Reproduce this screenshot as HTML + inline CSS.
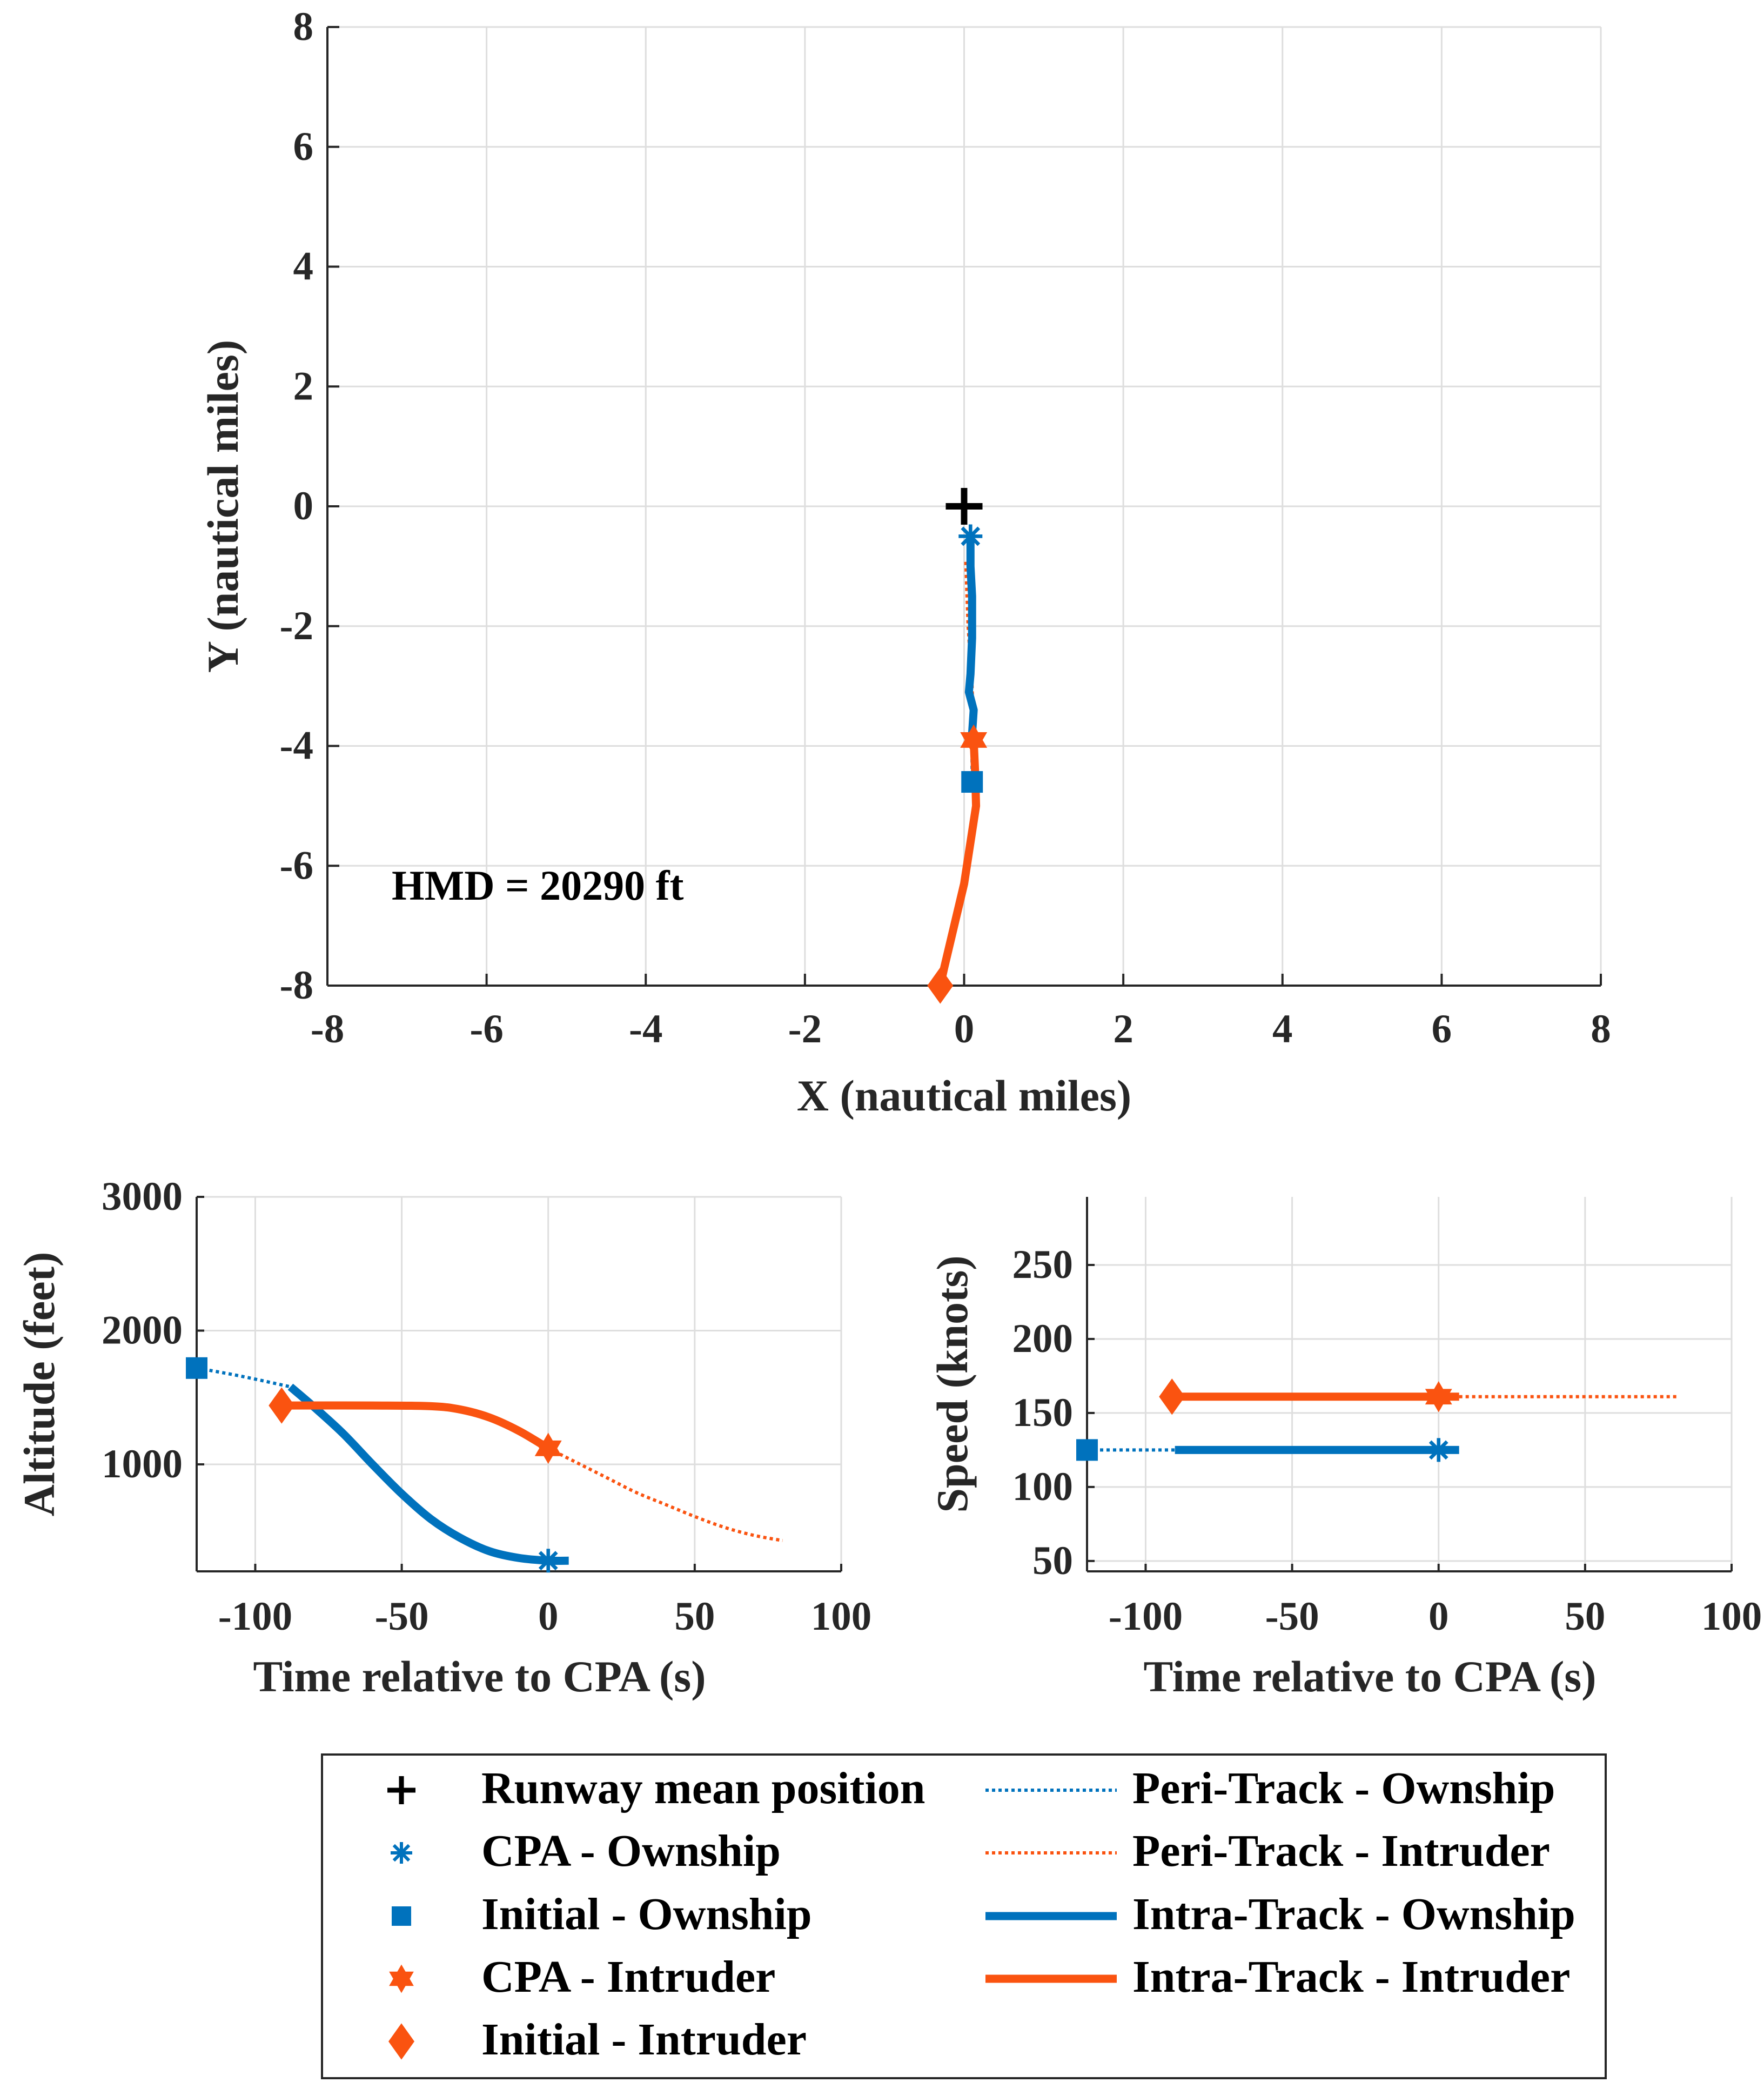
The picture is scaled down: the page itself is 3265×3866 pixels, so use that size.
<!DOCTYPE html>
<html><head><meta charset="utf-8">
<style>
html,body{margin:0;padding:0;background:#fff;}
svg{display:block;font-family:"Liberation Serif",serif;font-weight:bold;}
</style></head>
<body>
<svg id="fig" width="3265" height="3866" viewBox="0 0 3265 3866" xmlns="http://www.w3.org/2000/svg"></svg>
<script>
// ---- data ----
const xyTicks = [-8,-6,-4,-2,0,2,4,6,8];
const runwayXY = [0,0];
const cpaOwnXY = [0.08,-0.5];
const cpaIntXY = [0.12,-3.9];
const initOwnXY = [0.1,-4.6];
const initIntXY = [-0.3,-8];
const ownIntraX = [0.08,0.08,0.1,0.1,0.08,0.06,0.12,0.1];
const ownIntraY = [-0.5,-1.0,-1.5,-2.2,-2.8,-3.1,-3.4,-3.8];
const ownPeriX = [0.1,0.1];
const ownPeriY = [-4.6,-3.8];
const intIntraX = [-0.3,-0.25,0.0,0.15,0.14,0.12];
const intIntraY = [-8,-7.7,-6.3,-5.0,-4.5,-3.9];
const intPeriX = [0.12,0.1,0.05,0.02];
const intPeriY = [-3.9,-3.0,-2.0,-0.9];

const timeTicks = [-100,-50,0,50,100];
const altTicks = [1000,2000,3000];
const spdTicks = [50,100,150,200,250];
const ownAltIntraT = [-88,-80,-70,-60,-50,-40,-30,-20,-10,0,7];
const ownAltIntraV = [1580,1430,1230,1000,780,590,450,350,300,280,280];
const ownAltPeriT = [-120,-105,-88];
const ownAltPeriV = [1720,1660,1580];
const intAltIntraT = [-91,-60,-40,-30,-20,-10,0];
const intAltIntraV = [1440,1440,1435,1410,1350,1250,1120];
const intAltPeriT = [0,10,20,30,40,50,60,70,80];
const intAltPeriV = [1120,1010,900,790,700,610,530,470,430];
const ownSpdT = [-90,7];
const ownSpdV = [125,125];
const ownSpdPeriT = [-120,-90];
const ownSpdPeriV = [125,125];
const intSpdT = [-91,7];
const intSpdV = [161,161];
const intSpdPeriT = [7,82];
const intSpdPeriV = [161,161];

const BLUE = "#0072BD", ORANGE = "#FA5310";
const NS = "http://www.w3.org/2000/svg";
const svg = document.getElementById("fig");
function mk(tag, attrs, parent){ const e=document.createElementNS(NS,tag); for(const k in attrs) e.setAttribute(k,attrs[k]); (parent||svg).appendChild(e); return e; }
function txt(s, attrs, parent){ const e=mk("text",attrs,parent); e.textContent=s; return e; }

function marker(type, cx, cy, size, color, parent){
  const g = mk("g",{},parent);
  if(type==="plus"){
    mk("line",{x1:cx-size,y1:cy,x2:cx+size,y2:cy,stroke:color,"stroke-width":size*0.35},g);
    mk("line",{x1:cx,y1:cy-size,x2:cx,y2:cy+size,stroke:color,"stroke-width":size*0.35},g);
  } else if(type==="asterisk"){
    for(let a=0;a<4;a++){ const t=a*Math.PI/4; mk("line",{x1:cx-size*Math.cos(t),y1:cy-size*Math.sin(t),x2:cx+size*Math.cos(t),y2:cy+size*Math.sin(t),stroke:color,"stroke-width":size*0.3},g); }
  } else if(type==="square"){
    mk("rect",{x:cx-size,y:cy-size,width:2*size,height:2*size,fill:color},g);
  } else if(type==="diamond"){
    mk("polygon",{points:`${cx},${cy-size*1.4} ${cx+size},${cy} ${cx},${cy+size*1.4} ${cx-size},${cy}`,fill:color},g);
  } else if(type==="hexagram"){
    const r=size*1.2; let p1="",p2="";
    for(let i=0;i<3;i++){ const t1=-Math.PI/2+i*2*Math.PI/3, t2=Math.PI/2+i*2*Math.PI/3;
      p1+=`${cx+r*Math.cos(t1)},${cy+r*Math.sin(t1)} `; p2+=`${cx+r*Math.cos(t2)},${cy+r*Math.sin(t2)} `; }
    mk("polygon",{points:p1,fill:color},g); mk("polygon",{points:p2,fill:color},g);
  }
  return g;
}
function poly(xs, ys, sx, sy, attrs, parent){
  const pts = xs.map((x,i)=>sx(x)+","+sy(ys[i])).join(" ");
  return mk("polyline", Object.assign({points:pts, fill:"none","stroke-linejoin":"round","stroke-linecap":"butt"},attrs), parent);
}
function smooth(xs, ys, sx, sy, attrs, parent){
  const P = xs.map((x,i)=>[sx(x),sy(ys[i])]);
  let d = `M${P[0][0]},${P[0][1]}`;
  for(let i=0;i<P.length-1;i++){
    const p0=P[Math.max(0,i-1)], p1=P[i], p2=P[i+1], p3=P[Math.min(P.length-1,i+2)];
    const c1=[p1[0]+(p2[0]-p0[0])/6, p1[1]+(p2[1]-p0[1])/6];
    const c2=[p2[0]-(p3[0]-p1[0])/6, p2[1]-(p3[1]-p1[1])/6];
    d+=` C${c1[0]},${c1[1]} ${c2[0]},${c2[1]} ${p2[0]},${p2[1]}`;
  }
  return mk("path", Object.assign({d:d, fill:"none","stroke-linejoin":"round"},attrs), parent);
}

const TICKF=75, TITLEF=82;
// ---- top XY plot ----
const X0=606,X1=2963,Y0=50,Y1=1824;
const sx = v => X0 + (v+8)/16*(X1-X0);
const sy = v => Y1 - (v+8)/16*(Y1-Y0);
const topG = mk("g",{});


const grid = mk("g",{stroke:"#dedede","stroke-width":3},topG);
for(const t of xyTicks){
  mk("line",{x1:sx(t),y1:Y0,x2:sx(t),y2:Y1},grid);
  mk("line",{x1:X0,y1:sy(t),x2:X1,y2:sy(t)},grid);
}
mk("line",{x1:X0,y1:Y0,x2:X0,y2:Y1,stroke:"#262626","stroke-width":4},topG);
mk("line",{x1:X0,y1:Y1,x2:X1,y2:Y1,stroke:"#262626","stroke-width":4},topG);
for(const t of xyTicks){
  mk("line",{x1:sx(t),y1:Y1,x2:sx(t),y2:Y1-22,stroke:"#262626","stroke-width":4},topG);
  mk("line",{x1:X0,y1:sy(t),x2:X0+22,y2:sy(t),stroke:"#262626","stroke-width":4},topG);
  const xl=txt(String(t),{x:sx(t),y:Y1+105,"text-anchor":"middle","font-size":TICKF,fill:"#262626"},topG);
  
  
  const yl=txt(String(t),{x:X0-26,y:sy(t)+24,"text-anchor":"end","font-size":TICKF,fill:"#262626"},topG);
  
  
}
const xt=txt("X (nautical miles)",{x:(X0+X1)/2,y:2055,"text-anchor":"middle","font-size":TITLEF,fill:"#262626"},topG);


const yt=txt("Y (nautical miles)",{x:0,y:0,"text-anchor":"middle","font-size":TITLEF,fill:"#262626",transform:`translate(440,${(Y0+Y1)/2}) rotate(-90)`},topG);


const hmd=txt("HMD = 20290 ft",{x:725,y:1665,"font-size":78,fill:"#000"},topG);


let e;
e=poly(intPeriX,intPeriY,sx,sy,{stroke:ORANGE,"stroke-width":6,"stroke-dasharray":"6 6"},topG);


e=poly(ownPeriX,ownPeriY,sx,sy,{stroke:BLUE,"stroke-width":6,"stroke-dasharray":"6 6"},topG);


e=poly(ownIntraX,ownIntraY,sx,sy,{stroke:BLUE,"stroke-width":15},topG);


e=poly(intIntraX,intIntraY,sx,sy,{stroke:ORANGE,"stroke-width":15},topG);


e=marker("plus",sx(runwayXY[0]),sy(runwayXY[1]),34,"#000",topG);


e=marker("asterisk",sx(cpaOwnXY[0]),sy(cpaOwnXY[1]),22,BLUE,topG);


e=marker("square",sx(initOwnXY[0]),sy(initOwnXY[1]),20,BLUE,topG);


e=marker("hexagram",sx(cpaIntXY[0]),sy(cpaIntXY[1]),24,ORANGE,topG);


e=marker("diamond",sx(initIntXY[0]),sy(initIntXY[1]),24,ORANGE,topG);



// ---- bottom time plots ----
function timePlot(name, L, R, T, B, ymin, ymax, ticks, ylabel, ylabelX, drawData){
  const g=mk("g",{});
  
  
  const tx = v => L + (v+120)/220*(R-L);
  const ty = v => B - (v-ymin)/(ymax-ymin)*(B-T);
  const gr=mk("g",{stroke:"#dedede","stroke-width":3},g);
  for(const t of timeTicks) mk("line",{x1:tx(t),y1:T,x2:tx(t),y2:B},gr);
  for(const t of ticks) mk("line",{x1:L,y1:ty(t),x2:R,y2:ty(t)},gr);
  mk("line",{x1:L,y1:T,x2:L,y2:B,stroke:"#262626","stroke-width":4},g);
  mk("line",{x1:L,y1:B,x2:R,y2:B,stroke:"#262626","stroke-width":4},g);
  for(const t of timeTicks){
    mk("line",{x1:tx(t),y1:B,x2:tx(t),y2:B-14,stroke:"#262626","stroke-width":4},g);
    const l=txt(String(t),{x:tx(t),y:B+108,"text-anchor":"middle","font-size":TICKF,fill:"#262626"},g);
    
    
  }
  for(const t of ticks){
    mk("line",{x1:L,y1:ty(t),x2:L+14,y2:ty(t),stroke:"#262626","stroke-width":4},g);
    const l=txt(String(t),{x:L-26,y:ty(t)+24,"text-anchor":"end","font-size":TICKF,fill:"#262626"},g);
    
    
  }
  const xl=txt("Time relative to CPA (s)",{x:(L+R)/2-73,y:B+222,"text-anchor":"middle","font-size":TITLEF,fill:"#262626"},g);
  
  
  const yl=txt(ylabel,{x:0,y:0,"text-anchor":"middle","font-size":TITLEF,fill:"#262626",transform:`translate(${ylabelX},${(T+B)/2}) rotate(-90)`},g);
  
  
  drawData(g,tx,ty);
}
timePlot("altitude-plot",364,1557,2215,2908,200,3000,altTicks,"Altitude (feet)",100,(g,tx,ty)=>{
  let e;
  e=smooth(ownAltPeriT,ownAltPeriV,tx,ty,{stroke:BLUE,"stroke-width":6,"stroke-dasharray":"6 6"},g);
  
  
  e=smooth(intAltPeriT,intAltPeriV,tx,ty,{stroke:ORANGE,"stroke-width":6,"stroke-dasharray":"6 6"},g);
  
  
  e=smooth(ownAltIntraT,ownAltIntraV,tx,ty,{stroke:BLUE,"stroke-width":15},g);
  
  
  e=smooth(intAltIntraT,intAltIntraV,tx,ty,{stroke:ORANGE,"stroke-width":15},g);
  
  
  e=marker("square",tx(ownAltPeriT[0]),ty(ownAltPeriV[0]),20,BLUE,g);
  
  
  e=marker("diamond",tx(intAltIntraT[0]),ty(intAltIntraV[0]),24,ORANGE,g);
  
  
  e=marker("asterisk",tx(0),ty(ownAltIntraV[9]),22,BLUE,g);
  
  
  e=marker("hexagram",tx(0),ty(intAltIntraV[intAltIntraV.length-1]),24,ORANGE,g);
  
  
});
timePlot("speed-plot",2012,3205,2215,2908,43,296,spdTicks,"Speed (knots)",1790,(g,tx,ty)=>{
  let e;
  e=poly(ownSpdPeriT,ownSpdPeriV,tx,ty,{stroke:BLUE,"stroke-width":6,"stroke-dasharray":"6 6"},g);
  
  
  e=poly(intSpdPeriT,intSpdPeriV,tx,ty,{stroke:ORANGE,"stroke-width":6,"stroke-dasharray":"6 6"},g);
  
  
  e=poly(ownSpdT,ownSpdV,tx,ty,{stroke:BLUE,"stroke-width":15},g);
  
  
  e=poly(intSpdT,intSpdV,tx,ty,{stroke:ORANGE,"stroke-width":15},g);
  
  
  e=marker("square",tx(ownSpdPeriT[0]),ty(ownSpdPeriV[0]),20,BLUE,g);
  
  
  e=marker("diamond",tx(intSpdT[0]),ty(intSpdV[0]),24,ORANGE,g);
  
  
  e=marker("asterisk",tx(0),ty(ownSpdV[0]),22,BLUE,g);
  
  
  e=marker("hexagram",tx(0),ty(intSpdV[0]),24,ORANGE,g);
  
  
});

// ---- legend ----
const lg=mk("g",{});


mk("rect",{x:596,y:3247,width:2376,height:599,fill:"#fff",stroke:"#262626","stroke-width":4},lg);
const leftLabels=["Runway mean position","CPA - Ownship","Initial - Ownship","CPA - Intruder","Initial - Intruder"];
const leftMarks=[["plus","#000",26],["asterisk",BLUE,20],["square",BLUE,18],["hexagram",ORANGE,22],["diamond",ORANGE,24]];
const rowsY=[3309,3425,3542,3658,3774];
leftLabels.forEach((s,i)=>{
  const m=marker(leftMarks[i][0],743,rowsY[i]+4,leftMarks[i][2],leftMarks[i][1],lg);
  
  
  const t=txt(s,{x:891,y:rowsY[i]+28,"font-size":84,fill:"#000"},lg);
  
  
});
const rightLabels=["Peri-Track - Ownship","Peri-Track - Intruder","Intra-Track - Ownship","Intra-Track - Intruder"];
const rightStyles=[[BLUE,6,"6 6"],[ORANGE,6,"6 6"],[BLUE,15,"none"],[ORANGE,15,"none"]];
rightLabels.forEach((s,i)=>{
  const l=mk("line",{x1:1824,y1:rowsY[i]+4,x2:2067,y2:rowsY[i]+4,stroke:rightStyles[i][0],"stroke-width":rightStyles[i][1],"stroke-dasharray":rightStyles[i][2]},lg);
  
  
  const t=txt(s,{x:2096,y:rowsY[i]+28,"font-size":84,fill:"#000"},lg);
  
  
});
</script>
</body></html>
